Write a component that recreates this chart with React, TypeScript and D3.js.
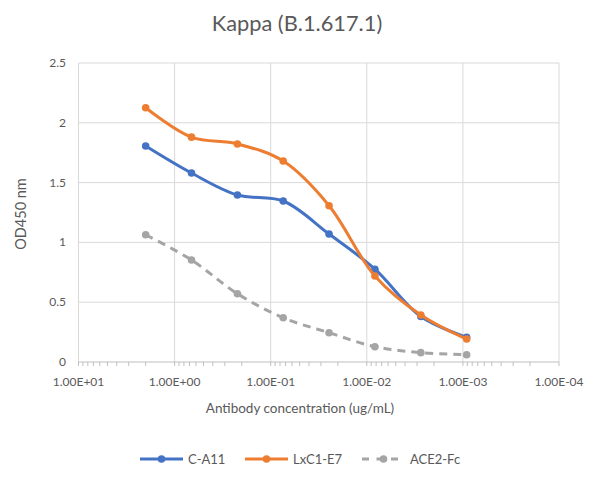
import { useEffect, useRef } from 'react';
import * as d3 from 'd3';

// antibody concentration (ug/mL), 3-fold dilutions
const concentrations = [2, 0.667, 0.222, 0.0741, 0.0247, 0.00823, 0.00274, 0.000914];

const cA11 = [1.806, 1.58, 1.396, 1.346, 1.07, 0.776, 0.38, 0.206];
const lxc1E7 = [2.126, 1.88, 1.823, 1.68, 1.307, 0.719, 0.393, 0.192];
const ace2Fc = [1.064, 0.853, 0.571, 0.37, 0.245, 0.128, 0.078, 0.061];

const seriesNames = ['C-A11', 'LxC1-E7', 'ACE2-Fc'];
const xTicks = [10, 1, 0.1, 0.01, 0.001, 0.0001];
const yTicks = [0, 0.5, 1, 1.5, 2, 2.5];

const WIDTH = 597;
const HEIGHT = 478;

function sciFormat(v: number) {
  const exp = Math.round(Math.log10(v));
  const mant = v / Math.pow(10, exp);
  const sign = exp < 0 ? '-' : '+';
  return `${mant.toFixed(2)}E${sign}${String(Math.abs(exp)).padStart(2, '0')}`;
}

export default function App() {
  const svgRef = useRef<SVGSVGElement>(null);

  useEffect(() => {
    if (!svgRef.current) return;
    const svg = d3.select(svgRef.current);
    svg.selectAll('*').remove();

    const font = 'Lato, "Open Sans", sans-serif';
    const textColor = '#595959';
    const left = 78.5, right = 559, top = 63, bottom = 362;

    const x = d3.scaleLog().domain([10, 0.0001]).range([left, right]);
    const y = d3.scaleLinear().domain([0, 2.5]).range([bottom, top]);

    const series = [
      { name: seriesNames[0], values: cA11, color: '#4472C4', dash: null as string | null },
      { name: seriesNames[1], values: lxc1E7, color: '#ED7D31', dash: null },
      { name: seriesNames[2], values: ace2Fc, color: '#A5A5A5', dash: '8,6' },
    ];

    // title
    svg.append('text')
      .attr('x', 297).attr('y', 31)
      .attr('text-anchor', 'middle')
      .attr('font-family', font).attr('font-size', 21.8)
      .attr('fill', textColor)
      .text('Kappa (B.1.617.1)');

    // horizontal gridlines
    svg.append('g').selectAll('line')
      .data(yTicks.slice(1))
      .enter().append('line')
      .attr('x1', left).attr('x2', right)
      .attr('y1', d => y(d)).attr('y2', d => y(d))
      .attr('stroke', '#d9d9d9').attr('stroke-width', 1);

    // vertical gridlines
    svg.append('g').selectAll('line')
      .data(xTicks)
      .enter().append('line')
      .attr('x1', d => x(d)).attr('x2', d => x(d))
      .attr('y1', top).attr('y2', bottom)
      .attr('stroke', '#d9d9d9').attr('stroke-width', 1);

    // minor ticks on log axis
    const minor: number[] = [];
    for (let e = -4; e < 1; e++) {
      for (let m = 1; m <= 9; m++) minor.push(m * Math.pow(10, e));
    }
    minor.push(10);
    svg.append('g').selectAll('line')
      .data(minor)
      .enter().append('line')
      .attr('x1', d => x(d)).attr('x2', d => x(d))
      .attr('y1', bottom).attr('y2', bottom + 4)
      .attr('stroke', '#bfbfbf').attr('stroke-width', 1);

    // x axis line
    svg.append('line')
      .attr('x1', left).attr('x2', right)
      .attr('y1', bottom).attr('y2', bottom)
      .attr('stroke', '#bfbfbf').attr('stroke-width', 1);

    // x tick labels
    svg.append('g').selectAll('text')
      .data(xTicks)
      .enter().append('text')
      .attr('x', d => x(d)).attr('y', bottom + 24)
      .attr('text-anchor', 'middle')
      .attr('font-family', font).attr('font-size', 12)
      .attr('fill', textColor)
      .text(d => sciFormat(d));

    // y tick labels
    svg.append('g').selectAll('text')
      .data(yTicks)
      .enter().append('text')
      .attr('x', 66).attr('y', d => y(d) + 4)
      .attr('text-anchor', 'end')
      .attr('font-family', font).attr('font-size', 12)
      .attr('fill', textColor)
      .text(d => String(d));

    // axis titles
    svg.append('text')
      .attr('x', 300).attr('y', 413)
      .attr('text-anchor', 'middle')
      .attr('font-family', font).attr('font-size', 13.5)
      .attr('fill', textColor)
      .text('Antibody concentration (ug/mL)');

    svg.append('text')
      .attr('transform', `translate(26,${(top + bottom) / 2 + 1.5}) rotate(-90)`)
      .attr('text-anchor', 'middle')
      .attr('font-family', font).attr('font-size', 14.5)
      .attr('fill', textColor)
      .text('OD450 nm');

    const line = d3.line<number>()
      .x((_, i) => x(concentrations[i]))
      .y(d => y(d))
      .curve(d3.curveCatmullRom.alpha(0.5));

    // draw back-to-front: ACE2, C-A11, LxC1-E7
    [series[2], series[0], series[1]].forEach(s => {
      const g = svg.append('g');
      g.append('path')
        .datum(s.values)
        .attr('fill', 'none')
        .attr('stroke', s.color)
        .attr('stroke-width', 3)
        .attr('stroke-linecap', s.dash ? 'butt' : 'round')
        .attr('stroke-dasharray', s.dash)
        .attr('d', line);
      g.selectAll('circle')
        .data(s.values)
        .enter().append('circle')
        .attr('cx', (_, i) => x(concentrations[i]))
        .attr('cy', d => y(d))
        .attr('r', 3.8)
        .attr('fill', s.color);
    });

    // legend
    const legendX = [140, 245, 362];
    series.forEach((s, i) => {
      const g = svg.append('g').attr('transform', `translate(${legendX[i]},459)`);
      g.append('line')
        .attr('x1', 0).attr('x2', 43)
        .attr('y1', 0).attr('y2', 0)
        .attr('stroke', s.color).attr('stroke-width', 3)
        .attr('stroke-dasharray', s.dash ? '7,7.5' : null);
      g.append('circle')
        .attr('cx', 21.5).attr('cy', 0).attr('r', 3.8)
        .attr('fill', s.color);
      g.append('text')
        .attr('x', 48).attr('y', 4.5)
        .attr('font-family', font).attr('font-size', 13)
        .attr('fill', textColor)
        .text(s.name);
    });
  }, []);

  return (
    <svg
      ref={svgRef}
      width={WIDTH}
      height={HEIGHT}
      style={{ position: 'absolute', left: 0, top: 0, background: '#fff' }}
    />
  );
}
